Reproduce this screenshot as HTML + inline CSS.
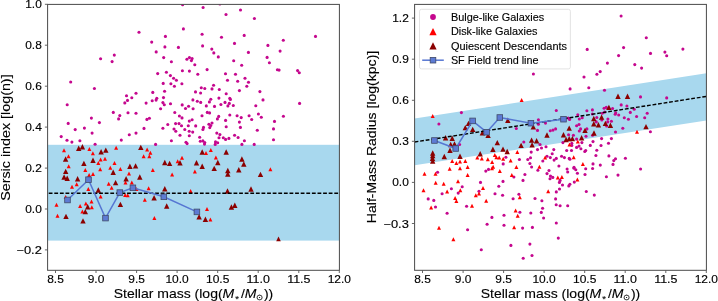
<!DOCTYPE html><html><head><meta charset="utf-8"><style>html,body{margin:0;padding:0;background:#fff;overflow:hidden}svg{display:block;will-change:transform}text{font-family:"Liberation Sans",sans-serif;fill:#000}</style></head><body>
<svg width="718" height="301" viewBox="0 0 718 301">
<rect width="718" height="301" fill="#fff"/>
<defs><clipPath id="cl"><rect x="47.6" y="4.4" width="291.8" height="265.9"/></clipPath>
<clipPath id="cr"><rect x="414.6" y="4.4" width="291.8" height="265.9"/></clipPath></defs>
<g clip-path="url(#cl)">
<rect x="47.6" y="144.8" width="291.8" height="95.8" fill="#a8d8ee"/>
<circle cx="100.6" cy="58.8" r="1.55" fill="#c5078e"/>
<circle cx="114.3" cy="55.1" r="1.55" fill="#c5078e"/>
<circle cx="112.1" cy="61.6" r="1.55" fill="#c5078e"/>
<circle cx="182.6" cy="4.7" r="1.55" fill="#c5078e"/>
<circle cx="219.9" cy="4.0" r="1.55" fill="#c5078e"/>
<circle cx="203.1" cy="7.5" r="1.55" fill="#c5078e"/>
<circle cx="226.0" cy="14.5" r="1.55" fill="#c5078e"/>
<circle cx="139.0" cy="32.2" r="1.55" fill="#c5078e"/>
<circle cx="183.4" cy="28.9" r="1.55" fill="#c5078e"/>
<circle cx="165.4" cy="36.4" r="1.55" fill="#c5078e"/>
<circle cx="202.1" cy="34.2" r="1.55" fill="#c5078e"/>
<circle cx="221.5" cy="37.2" r="1.55" fill="#c5078e"/>
<circle cx="151.7" cy="42.1" r="1.55" fill="#c5078e"/>
<circle cx="164.9" cy="46.9" r="1.55" fill="#c5078e"/>
<circle cx="178.4" cy="47.4" r="1.55" fill="#c5078e"/>
<circle cx="202.6" cy="45.9" r="1.55" fill="#c5078e"/>
<circle cx="211.8" cy="49.1" r="1.55" fill="#c5078e"/>
<circle cx="213.8" cy="52.9" r="1.55" fill="#c5078e"/>
<circle cx="218.3" cy="56.9" r="1.55" fill="#c5078e"/>
<circle cx="156.2" cy="51.9" r="1.55" fill="#c5078e"/>
<circle cx="163.7" cy="57.6" r="1.55" fill="#c5078e"/>
<circle cx="171.4" cy="61.8" r="1.55" fill="#c5078e"/>
<circle cx="186.9" cy="59.3" r="1.55" fill="#c5078e"/>
<circle cx="189.4" cy="57.6" r="1.55" fill="#c5078e"/>
<circle cx="192.1" cy="58.6" r="1.55" fill="#c5078e"/>
<circle cx="191.4" cy="60.6" r="1.55" fill="#c5078e"/>
<circle cx="194.8" cy="64.8" r="1.55" fill="#c5078e"/>
<circle cx="182.4" cy="70.8" r="1.55" fill="#c5078e"/>
<circle cx="189.4" cy="71.1" r="1.55" fill="#c5078e"/>
<circle cx="197.8" cy="74.3" r="1.55" fill="#c5078e"/>
<circle cx="207.1" cy="69.6" r="1.55" fill="#c5078e"/>
<circle cx="157.7" cy="73.6" r="1.55" fill="#c5078e"/>
<circle cx="166.4" cy="72.3" r="1.55" fill="#c5078e"/>
<circle cx="170.4" cy="75.6" r="1.55" fill="#c5078e"/>
<circle cx="173.6" cy="78.3" r="1.55" fill="#c5078e"/>
<circle cx="225.5" cy="73.8" r="1.55" fill="#c5078e"/>
<circle cx="240.5" cy="10.0" r="1.55" fill="#c5078e"/>
<circle cx="254.4" cy="18.5" r="1.55" fill="#c5078e"/>
<circle cx="244.2" cy="35.4" r="1.55" fill="#c5078e"/>
<circle cx="234.5" cy="43.4" r="1.55" fill="#c5078e"/>
<circle cx="283.3" cy="40.2" r="1.55" fill="#c5078e"/>
<circle cx="315.5" cy="36.4" r="1.55" fill="#c5078e"/>
<circle cx="267.9" cy="45.4" r="1.55" fill="#c5078e"/>
<circle cx="248.4" cy="52.4" r="1.55" fill="#c5078e"/>
<circle cx="280.1" cy="51.1" r="1.55" fill="#c5078e"/>
<circle cx="267.1" cy="57.4" r="1.55" fill="#c5078e"/>
<circle cx="233.7" cy="60.8" r="1.55" fill="#c5078e"/>
<circle cx="241.7" cy="65.3" r="1.55" fill="#c5078e"/>
<circle cx="269.4" cy="62.8" r="1.55" fill="#c5078e"/>
<circle cx="277.4" cy="69.8" r="1.55" fill="#c5078e"/>
<circle cx="279.1" cy="70.1" r="1.55" fill="#c5078e"/>
<circle cx="297.6" cy="70.6" r="1.55" fill="#c5078e"/>
<circle cx="299.3" cy="72.8" r="1.55" fill="#c5078e"/>
<circle cx="235.5" cy="74.3" r="1.55" fill="#c5078e"/>
<circle cx="245.0" cy="78.3" r="1.55" fill="#c5078e"/>
<circle cx="70.7" cy="82.0" r="1.55" fill="#c5078e"/>
<circle cx="94.4" cy="88.5" r="1.55" fill="#c5078e"/>
<circle cx="67.2" cy="104.7" r="1.55" fill="#c5078e"/>
<circle cx="126.5" cy="95.7" r="1.55" fill="#c5078e"/>
<circle cx="131.8" cy="97.7" r="1.55" fill="#c5078e"/>
<circle cx="127.5" cy="100.4" r="1.55" fill="#c5078e"/>
<circle cx="124.8" cy="102.9" r="1.55" fill="#c5078e"/>
<circle cx="136.0" cy="93.2" r="1.55" fill="#c5078e"/>
<circle cx="113.3" cy="112.4" r="1.55" fill="#c5078e"/>
<circle cx="119.8" cy="115.6" r="1.55" fill="#c5078e"/>
<circle cx="118.6" cy="118.9" r="1.55" fill="#c5078e"/>
<circle cx="128.0" cy="112.7" r="1.55" fill="#c5078e"/>
<circle cx="136.0" cy="113.2" r="1.55" fill="#c5078e"/>
<circle cx="91.4" cy="118.1" r="1.55" fill="#c5078e"/>
<circle cx="99.4" cy="122.6" r="1.55" fill="#c5078e"/>
<circle cx="68.2" cy="123.4" r="1.55" fill="#c5078e"/>
<circle cx="75.2" cy="129.6" r="1.55" fill="#c5078e"/>
<circle cx="84.4" cy="128.1" r="1.55" fill="#c5078e"/>
<circle cx="92.1" cy="133.1" r="1.55" fill="#c5078e"/>
<circle cx="61.2" cy="136.6" r="1.55" fill="#c5078e"/>
<circle cx="67.0" cy="140.3" r="1.55" fill="#c5078e"/>
<circle cx="71.9" cy="142.1" r="1.55" fill="#c5078e"/>
<circle cx="79.9" cy="140.8" r="1.55" fill="#c5078e"/>
<circle cx="95.1" cy="144.3" r="1.55" fill="#c5078e"/>
<circle cx="121.3" cy="140.1" r="1.55" fill="#c5078e"/>
<circle cx="129.3" cy="134.8" r="1.55" fill="#c5078e"/>
<circle cx="136.0" cy="133.1" r="1.55" fill="#c5078e"/>
<circle cx="176.4" cy="80.3" r="1.55" fill="#c5078e"/>
<circle cx="163.2" cy="83.4" r="1.55" fill="#c5078e"/>
<circle cx="170.9" cy="83.7" r="1.55" fill="#c5078e"/>
<circle cx="174.4" cy="86.2" r="1.55" fill="#c5078e"/>
<circle cx="152.8" cy="92.4" r="1.55" fill="#c5078e"/>
<circle cx="164.6" cy="91.3" r="1.55" fill="#c5078e"/>
<circle cx="163.5" cy="97.6" r="1.55" fill="#c5078e"/>
<circle cx="156.8" cy="98.3" r="1.55" fill="#c5078e"/>
<circle cx="156.1" cy="100.1" r="1.55" fill="#c5078e"/>
<circle cx="152.2" cy="100.7" r="1.55" fill="#c5078e"/>
<circle cx="146.1" cy="103.1" r="1.55" fill="#c5078e"/>
<circle cx="162.9" cy="102.6" r="1.55" fill="#c5078e"/>
<circle cx="164.3" cy="104.7" r="1.55" fill="#c5078e"/>
<circle cx="170.5" cy="103.7" r="1.55" fill="#c5078e"/>
<circle cx="160.6" cy="108.8" r="1.55" fill="#c5078e"/>
<circle cx="174.8" cy="112.5" r="1.55" fill="#c5078e"/>
<circle cx="179.4" cy="116.0" r="1.55" fill="#c5078e"/>
<circle cx="181.9" cy="83.8" r="1.55" fill="#c5078e"/>
<circle cx="201.3" cy="87.8" r="1.55" fill="#c5078e"/>
<circle cx="204.8" cy="88.5" r="1.55" fill="#c5078e"/>
<circle cx="213.6" cy="85.3" r="1.55" fill="#c5078e"/>
<circle cx="212.0" cy="88.9" r="1.55" fill="#c5078e"/>
<circle cx="219.3" cy="89.5" r="1.55" fill="#c5078e"/>
<circle cx="195.5" cy="91.9" r="1.55" fill="#c5078e"/>
<circle cx="200.6" cy="93.0" r="1.55" fill="#c5078e"/>
<circle cx="226.2" cy="93.8" r="1.55" fill="#c5078e"/>
<circle cx="192.9" cy="99.9" r="1.55" fill="#c5078e"/>
<circle cx="197.3" cy="101.3" r="1.55" fill="#c5078e"/>
<circle cx="200.7" cy="102.4" r="1.55" fill="#c5078e"/>
<circle cx="210.8" cy="99.2" r="1.55" fill="#c5078e"/>
<circle cx="209.4" cy="101.9" r="1.55" fill="#c5078e"/>
<circle cx="218.9" cy="98.1" r="1.55" fill="#c5078e"/>
<circle cx="225.0" cy="102.4" r="1.55" fill="#c5078e"/>
<circle cx="220.9" cy="104.5" r="1.55" fill="#c5078e"/>
<circle cx="182.2" cy="104.9" r="1.55" fill="#c5078e"/>
<circle cx="188.6" cy="106.2" r="1.55" fill="#c5078e"/>
<circle cx="185.5" cy="108.5" r="1.55" fill="#c5078e"/>
<circle cx="193.1" cy="108.8" r="1.55" fill="#c5078e"/>
<circle cx="206.3" cy="105.9" r="1.55" fill="#c5078e"/>
<circle cx="214.5" cy="106.4" r="1.55" fill="#c5078e"/>
<circle cx="207.3" cy="112.4" r="1.55" fill="#c5078e"/>
<circle cx="209.6" cy="112.9" r="1.55" fill="#c5078e"/>
<circle cx="202.0" cy="115.8" r="1.55" fill="#c5078e"/>
<circle cx="218.7" cy="116.4" r="1.55" fill="#c5078e"/>
<circle cx="146.9" cy="119.4" r="1.55" fill="#c5078e"/>
<circle cx="149.4" cy="118.3" r="1.55" fill="#c5078e"/>
<circle cx="167.8" cy="124.5" r="1.55" fill="#c5078e"/>
<circle cx="175.6" cy="123.6" r="1.55" fill="#c5078e"/>
<circle cx="179.0" cy="123.6" r="1.55" fill="#c5078e"/>
<circle cx="181.5" cy="125.7" r="1.55" fill="#c5078e"/>
<circle cx="144.0" cy="128.4" r="1.55" fill="#c5078e"/>
<circle cx="162.9" cy="128.3" r="1.55" fill="#c5078e"/>
<circle cx="174.0" cy="129.0" r="1.55" fill="#c5078e"/>
<circle cx="175.8" cy="131.2" r="1.55" fill="#c5078e"/>
<circle cx="180.0" cy="135.3" r="1.55" fill="#c5078e"/>
<circle cx="171.4" cy="140.8" r="1.55" fill="#c5078e"/>
<circle cx="155.6" cy="144.4" r="1.55" fill="#c5078e"/>
<circle cx="182.0" cy="117.9" r="1.55" fill="#c5078e"/>
<circle cx="217.4" cy="118.9" r="1.55" fill="#c5078e"/>
<circle cx="189.3" cy="121.1" r="1.55" fill="#c5078e"/>
<circle cx="192.1" cy="119.8" r="1.55" fill="#c5078e"/>
<circle cx="225.6" cy="120.4" r="1.55" fill="#c5078e"/>
<circle cx="188.3" cy="125.7" r="1.55" fill="#c5078e"/>
<circle cx="195.7" cy="125.9" r="1.55" fill="#c5078e"/>
<circle cx="208.9" cy="124.2" r="1.55" fill="#c5078e"/>
<circle cx="212.0" cy="123.0" r="1.55" fill="#c5078e"/>
<circle cx="210.8" cy="125.5" r="1.55" fill="#c5078e"/>
<circle cx="209.8" cy="127.6" r="1.55" fill="#c5078e"/>
<circle cx="203.5" cy="127.4" r="1.55" fill="#c5078e"/>
<circle cx="202.9" cy="129.5" r="1.55" fill="#c5078e"/>
<circle cx="226.2" cy="126.7" r="1.55" fill="#c5078e"/>
<circle cx="184.8" cy="129.5" r="1.55" fill="#c5078e"/>
<circle cx="189.2" cy="131.2" r="1.55" fill="#c5078e"/>
<circle cx="192.7" cy="132.1" r="1.55" fill="#c5078e"/>
<circle cx="189.3" cy="135.8" r="1.55" fill="#c5078e"/>
<circle cx="216.8" cy="133.1" r="1.55" fill="#c5078e"/>
<circle cx="219.9" cy="134.6" r="1.55" fill="#c5078e"/>
<circle cx="219.0" cy="137.7" r="1.55" fill="#c5078e"/>
<circle cx="223.3" cy="137.7" r="1.55" fill="#c5078e"/>
<circle cx="225.6" cy="139.4" r="1.55" fill="#c5078e"/>
<circle cx="199.7" cy="137.2" r="1.55" fill="#c5078e"/>
<circle cx="200.3" cy="141.3" r="1.55" fill="#c5078e"/>
<circle cx="202.9" cy="140.9" r="1.55" fill="#c5078e"/>
<circle cx="204.8" cy="142.5" r="1.55" fill="#c5078e"/>
<circle cx="204.5" cy="144.1" r="1.55" fill="#c5078e"/>
<circle cx="186.0" cy="142.2" r="1.55" fill="#c5078e"/>
<circle cx="187.1" cy="143.6" r="1.55" fill="#c5078e"/>
<circle cx="215.5" cy="141.9" r="1.55" fill="#c5078e"/>
<circle cx="217.7" cy="142.8" r="1.55" fill="#c5078e"/>
<circle cx="215.2" cy="144.4" r="1.55" fill="#c5078e"/>
<circle cx="227.5" cy="80.2" r="1.55" fill="#c5078e"/>
<circle cx="237.7" cy="81.3" r="1.55" fill="#c5078e"/>
<circle cx="248.5" cy="82.2" r="1.55" fill="#c5078e"/>
<circle cx="246.8" cy="86.2" r="1.55" fill="#c5078e"/>
<circle cx="239.4" cy="90.6" r="1.55" fill="#c5078e"/>
<circle cx="259.9" cy="91.6" r="1.55" fill="#c5078e"/>
<circle cx="229.8" cy="98.2" r="1.55" fill="#c5078e"/>
<circle cx="230.4" cy="99.5" r="1.55" fill="#c5078e"/>
<circle cx="263.0" cy="99.9" r="1.55" fill="#c5078e"/>
<circle cx="229.3" cy="103.4" r="1.55" fill="#c5078e"/>
<circle cx="227.9" cy="105.9" r="1.55" fill="#c5078e"/>
<circle cx="233.3" cy="105.5" r="1.55" fill="#c5078e"/>
<circle cx="255.8" cy="105.7" r="1.55" fill="#c5078e"/>
<circle cx="229.8" cy="115.0" r="1.55" fill="#c5078e"/>
<circle cx="237.1" cy="115.7" r="1.55" fill="#c5078e"/>
<circle cx="249.1" cy="115.7" r="1.55" fill="#c5078e"/>
<circle cx="258.4" cy="114.0" r="1.55" fill="#c5078e"/>
<circle cx="299.6" cy="103.4" r="1.55" fill="#c5078e"/>
<circle cx="283.4" cy="116.3" r="1.55" fill="#c5078e"/>
<circle cx="241.2" cy="117.6" r="1.55" fill="#c5078e"/>
<circle cx="251.7" cy="119.5" r="1.55" fill="#c5078e"/>
<circle cx="261.3" cy="117.3" r="1.55" fill="#c5078e"/>
<circle cx="239.4" cy="122.1" r="1.55" fill="#c5078e"/>
<circle cx="240.4" cy="127.4" r="1.55" fill="#c5078e"/>
<circle cx="257.3" cy="130.2" r="1.55" fill="#c5078e"/>
<circle cx="234.6" cy="135.2" r="1.55" fill="#c5078e"/>
<circle cx="238.1" cy="137.5" r="1.55" fill="#c5078e"/>
<circle cx="228.9" cy="138.4" r="1.55" fill="#c5078e"/>
<circle cx="244.4" cy="140.8" r="1.55" fill="#c5078e"/>
<circle cx="241.9" cy="144.4" r="1.55" fill="#c5078e"/>
<circle cx="254.2" cy="144.4" r="1.55" fill="#c5078e"/>
<circle cx="274.5" cy="121.4" r="1.55" fill="#c5078e"/>
<circle cx="273.5" cy="128.9" r="1.55" fill="#c5078e"/>
<circle cx="273.5" cy="139.8" r="1.55" fill="#c5078e"/>
<path d="M64.0 148.3L66.0 152.3L62.0 152.3Z" fill="#ff0000"/>
<path d="M89.4 147.1L91.4 151.1L87.4 151.1Z" fill="#ff0000"/>
<path d="M92.9 151.3L94.9 155.3L90.9 155.3Z" fill="#ff0000"/>
<path d="M116.1 145.8L118.1 149.8L114.1 149.8Z" fill="#ff0000"/>
<path d="M68.5 154.2L70.5 158.2L66.5 158.2Z" fill="#ff0000"/>
<path d="M68.7 164.2L70.7 168.2L66.7 168.2Z" fill="#ff0000"/>
<path d="M85.3 168.1L87.3 172.1L83.3 172.1Z" fill="#ff0000"/>
<path d="M89.1 173.1L91.1 177.1L87.1 177.1Z" fill="#ff0000"/>
<path d="M76.7 182.2L78.7 186.2L74.7 186.2Z" fill="#ff0000"/>
<path d="M72.0 184.8L74.0 188.8L70.0 188.8Z" fill="#ff0000"/>
<path d="M88.3 187.0L90.3 191.0L86.3 191.0Z" fill="#ff0000"/>
<path d="M65.7 194.9L67.7 198.9L63.7 198.9Z" fill="#ff0000"/>
<path d="M56.5 202.8L58.5 206.8L54.5 206.8Z" fill="#ff0000"/>
<path d="M80.1 204.0L82.1 208.0L78.1 208.0Z" fill="#ff0000"/>
<path d="M85.9 201.5L87.9 205.5L83.9 205.5Z" fill="#ff0000"/>
<path d="M91.5 199.5L93.5 203.5L89.5 203.5Z" fill="#ff0000"/>
<path d="M100.6 157.6L102.6 161.6L98.6 161.6Z" fill="#ff0000"/>
<path d="M105.0 156.7L107.0 160.7L103.0 160.7Z" fill="#ff0000"/>
<path d="M98.3 161.1L100.3 165.1L96.3 165.1Z" fill="#ff0000"/>
<path d="M114.5 161.1L116.5 165.1L112.5 165.1Z" fill="#ff0000"/>
<path d="M100.2 167.3L102.2 171.3L98.2 171.3Z" fill="#ff0000"/>
<path d="M110.3 165.8L112.3 169.8L108.3 169.8Z" fill="#ff0000"/>
<path d="M120.4 167.1L122.4 171.1L118.4 171.1Z" fill="#ff0000"/>
<path d="M93.0 171.9L95.0 175.9L91.0 175.9Z" fill="#ff0000"/>
<path d="M129.0 171.5L131.0 175.5L127.0 175.5Z" fill="#ff0000"/>
<path d="M125.5 180.6L127.5 184.6L123.5 184.6Z" fill="#ff0000"/>
<path d="M131.8 180.4L133.8 184.4L129.8 184.4Z" fill="#ff0000"/>
<path d="M108.7 181.7L110.7 185.7L106.7 185.7Z" fill="#ff0000"/>
<path d="M111.6 185.7L113.6 189.7L109.6 189.7Z" fill="#ff0000"/>
<path d="M100.6 194.5L102.6 198.5L98.6 198.5Z" fill="#ff0000"/>
<path d="M125.1 193.0L127.1 197.0L123.1 197.0Z" fill="#ff0000"/>
<path d="M127.7 193.3L129.7 197.3L125.7 197.3Z" fill="#ff0000"/>
<path d="M136.5 187.0L138.5 191.0L134.5 191.0Z" fill="#ff0000"/>
<path d="M147.1 147.5L149.1 151.5L145.1 151.5Z" fill="#ff0000"/>
<path d="M150.4 150.7L152.4 154.7L148.4 154.7Z" fill="#ff0000"/>
<path d="M143.6 154.2L145.6 158.2L141.6 158.2Z" fill="#ff0000"/>
<path d="M149.3 154.2L151.3 158.2L147.3 158.2Z" fill="#ff0000"/>
<path d="M177.7 159.2L179.7 163.2L175.7 163.2Z" fill="#ff0000"/>
<path d="M152.8 168.1L154.8 172.1L150.8 172.1Z" fill="#ff0000"/>
<path d="M172.1 172.4L174.1 176.4L170.1 176.4Z" fill="#ff0000"/>
<path d="M148.6 186.3L150.6 190.3L146.6 190.3Z" fill="#ff0000"/>
<path d="M144.8 197.7L146.8 201.7L142.8 201.7Z" fill="#ff0000"/>
<path d="M206.0 151.0L208.0 155.0L204.0 155.0Z" fill="#ff0000"/>
<path d="M210.8 148.1L212.8 152.1L208.8 152.1Z" fill="#ff0000"/>
<path d="M182.0 155.7L184.0 159.7L180.0 159.7Z" fill="#ff0000"/>
<path d="M215.9 155.4L217.9 159.4L213.9 159.4Z" fill="#ff0000"/>
<path d="M194.9 169.4L196.9 173.4L192.9 173.4Z" fill="#ff0000"/>
<path d="M190.6 188.9L192.6 192.9L188.6 192.9Z" fill="#ff0000"/>
<path d="M270.4 167.3L272.4 171.3L268.4 171.3Z" fill="#ff0000"/>
<path d="M82.4 209.4L84.4 213.4L80.4 213.4Z" fill="#ff0000"/>
<path d="M57.5 213.8L59.5 217.8L55.5 217.8Z" fill="#ff0000"/>
<path d="M91.8 205.3L93.8 209.3L89.8 209.3Z" fill="#ff0000"/>
<path d="M154.4 216.1L156.4 220.1L152.4 220.1Z" fill="#ff0000"/>
<path d="M207.0 207.1L209.0 211.1L205.0 211.1Z" fill="#ff0000"/>
<path d="M210.4 217.6L212.4 221.6L208.4 221.6Z" fill="#ff0000"/>
<path d="M78.7 145.6L81.4 151.0L76.0 151.0Z" fill="#8b0000"/>
<path d="M82.4 144.1L85.1 149.5L79.7 149.5Z" fill="#8b0000"/>
<path d="M101.1 149.1L103.8 154.5L98.4 154.5Z" fill="#8b0000"/>
<path d="M105.8 147.4L108.5 152.8L103.1 152.8Z" fill="#8b0000"/>
<path d="M65.6 156.3L68.3 161.7L62.9 161.7Z" fill="#8b0000"/>
<path d="M83.9 160.7L86.6 166.1L81.2 166.1Z" fill="#8b0000"/>
<path d="M65.7 168.7L68.4 174.1L63.0 174.1Z" fill="#8b0000"/>
<path d="M64.1 174.3L66.8 179.7L61.4 179.7Z" fill="#8b0000"/>
<path d="M67.2 175.5L69.9 180.9L64.5 180.9Z" fill="#8b0000"/>
<path d="M77.6 176.1L80.3 181.5L74.9 181.5Z" fill="#8b0000"/>
<path d="M87.7 204.0L90.4 209.4L85.0 209.4Z" fill="#8b0000"/>
<path d="M93.0 157.5L95.7 162.9L90.3 162.9Z" fill="#8b0000"/>
<path d="M113.2 169.5L115.9 174.9L110.5 174.9Z" fill="#8b0000"/>
<path d="M129.9 163.6L132.6 169.0L127.2 169.0Z" fill="#8b0000"/>
<path d="M135.6 163.2L138.3 168.6L132.9 168.6Z" fill="#8b0000"/>
<path d="M126.1 176.1L128.8 181.5L123.4 181.5Z" fill="#8b0000"/>
<path d="M115.6 179.9L118.3 185.3L112.9 185.3Z" fill="#8b0000"/>
<path d="M98.3 187.3L101.0 192.7L95.6 192.7Z" fill="#8b0000"/>
<path d="M120.4 201.7L123.1 207.1L117.7 207.1Z" fill="#8b0000"/>
<path d="M140.8 144.7L143.5 150.1L138.1 150.1Z" fill="#8b0000"/>
<path d="M164.8 159.8L167.5 165.2L162.1 165.2Z" fill="#8b0000"/>
<path d="M169.6 160.7L172.3 166.1L166.9 166.1Z" fill="#8b0000"/>
<path d="M180.0 160.1L182.7 165.5L177.3 165.5Z" fill="#8b0000"/>
<path d="M139.8 174.3L142.5 179.7L137.1 179.7Z" fill="#8b0000"/>
<path d="M164.8 186.0L167.5 191.4L162.1 191.4Z" fill="#8b0000"/>
<path d="M154.1 195.1L156.8 200.5L151.4 200.5Z" fill="#8b0000"/>
<path d="M166.7 203.3L169.4 208.7L164.0 208.7Z" fill="#8b0000"/>
<path d="M202.2 149.3L204.9 154.7L199.5 154.7Z" fill="#8b0000"/>
<path d="M226.2 149.3L228.9 154.7L223.5 154.7Z" fill="#8b0000"/>
<path d="M217.8 159.8L220.5 165.2L215.1 165.2Z" fill="#8b0000"/>
<path d="M196.5 160.1L199.2 165.5L193.8 165.5Z" fill="#8b0000"/>
<path d="M202.2 163.6L204.9 169.0L199.5 169.0Z" fill="#8b0000"/>
<path d="M214.2 165.7L216.9 171.1L211.5 171.1Z" fill="#8b0000"/>
<path d="M241.9 156.3L244.6 161.7L239.2 161.7Z" fill="#8b0000"/>
<path d="M243.8 161.3L246.5 166.7L241.1 166.7Z" fill="#8b0000"/>
<path d="M227.8 167.8L230.5 173.2L225.1 173.2Z" fill="#8b0000"/>
<path d="M227.8 171.3L230.5 176.7L225.1 176.7Z" fill="#8b0000"/>
<path d="M238.8 167.0L241.5 172.4L236.1 172.4Z" fill="#8b0000"/>
<path d="M260.5 171.7L263.2 177.1L257.8 177.1Z" fill="#8b0000"/>
<path d="M227.5 188.3L230.2 193.7L224.8 193.7Z" fill="#8b0000"/>
<path d="M251.0 186.3L253.7 191.7L248.3 191.7Z" fill="#8b0000"/>
<path d="M85.3 208.9L88.0 214.3L82.6 214.3Z" fill="#8b0000"/>
<path d="M66.0 213.7L68.7 219.1L63.3 219.1Z" fill="#8b0000"/>
<path d="M83.0 218.2L85.7 223.6L80.3 223.6Z" fill="#8b0000"/>
<path d="M199.1 214.1L201.8 219.5L196.4 219.5Z" fill="#8b0000"/>
<path d="M205.4 216.5L208.1 221.9L202.7 221.9Z" fill="#8b0000"/>
<path d="M231.4 204.3L234.1 209.7L228.7 209.7Z" fill="#8b0000"/>
<path d="M234.8 202.6L237.5 208.0L232.1 208.0Z" fill="#8b0000"/>
<path d="M278.5 236.6L280.8 241.2L276.2 241.2Z" fill="#8b0000"/>
<line x1="47.6" y1="193.2" x2="339.4" y2="193.2" stroke="#000" stroke-width="1.4" stroke-dasharray="3.8 1.8" stroke-dashoffset="-1.1"/>
<polyline points="67.5,200.0 88.5,179.7 105.5,218.1 119.8,192.6 132.9,187.8 163.8,196.8 196.9,211.9" fill="none" stroke="#5676d2" stroke-width="1.5"/>
<rect x="64.7" y="197.2" width="5.6" height="5.6" fill="#5d7bd4" stroke="#404a68" stroke-width="0.8"/>
<rect x="85.7" y="176.9" width="5.6" height="5.6" fill="#5d7bd4" stroke="#404a68" stroke-width="0.8"/>
<rect x="102.7" y="215.3" width="5.6" height="5.6" fill="#5d7bd4" stroke="#404a68" stroke-width="0.8"/>
<rect x="117.0" y="189.8" width="5.6" height="5.6" fill="#5d7bd4" stroke="#404a68" stroke-width="0.8"/>
<rect x="130.1" y="185.0" width="5.6" height="5.6" fill="#5d7bd4" stroke="#404a68" stroke-width="0.8"/>
<rect x="161.0" y="194.0" width="5.6" height="5.6" fill="#5d7bd4" stroke="#404a68" stroke-width="0.8"/>
<rect x="194.1" y="209.1" width="5.6" height="5.6" fill="#5d7bd4" stroke="#404a68" stroke-width="0.8"/>
</g>
<rect x="47.6" y="4.4" width="291.8" height="265.9" fill="none" stroke="#4a4a4a" stroke-width="1.0"/>
<line x1="55.5" y1="270.3" x2="55.5" y2="273.0" stroke="#555" stroke-width="0.9"/>
<text x="55.5" y="283.1" font-size="11.0" text-anchor="middle" textLength="16.6" lengthAdjust="spacingAndGlyphs" stroke="#000" stroke-width="0.15">8.5</text>
<line x1="96.0" y1="270.3" x2="96.0" y2="273.0" stroke="#555" stroke-width="0.9"/>
<text x="96.0" y="283.1" font-size="11.0" text-anchor="middle" textLength="16.6" lengthAdjust="spacingAndGlyphs" stroke="#000" stroke-width="0.15">9.0</text>
<line x1="136.6" y1="270.3" x2="136.6" y2="273.0" stroke="#555" stroke-width="0.9"/>
<text x="136.6" y="283.1" font-size="11.0" text-anchor="middle" textLength="16.6" lengthAdjust="spacingAndGlyphs" stroke="#000" stroke-width="0.15">9.5</text>
<line x1="177.1" y1="270.3" x2="177.1" y2="273.0" stroke="#555" stroke-width="0.9"/>
<text x="177.1" y="283.1" font-size="11.0" text-anchor="middle" textLength="23.3" lengthAdjust="spacingAndGlyphs" stroke="#000" stroke-width="0.15">10.0</text>
<line x1="217.7" y1="270.3" x2="217.7" y2="273.0" stroke="#555" stroke-width="0.9"/>
<text x="217.7" y="283.1" font-size="11.0" text-anchor="middle" textLength="23.3" lengthAdjust="spacingAndGlyphs" stroke="#000" stroke-width="0.15">10.5</text>
<line x1="258.2" y1="270.3" x2="258.2" y2="273.0" stroke="#555" stroke-width="0.9"/>
<text x="258.2" y="283.1" font-size="11.0" text-anchor="middle" textLength="23.3" lengthAdjust="spacingAndGlyphs" stroke="#000" stroke-width="0.15">11.0</text>
<line x1="298.8" y1="270.3" x2="298.8" y2="273.0" stroke="#555" stroke-width="0.9"/>
<text x="298.8" y="283.1" font-size="11.0" text-anchor="middle" textLength="23.3" lengthAdjust="spacingAndGlyphs" stroke="#000" stroke-width="0.15">11.5</text>
<line x1="339.3" y1="270.3" x2="339.3" y2="273.0" stroke="#555" stroke-width="0.9"/>
<text x="339.3" y="283.1" font-size="11.0" text-anchor="middle" textLength="23.3" lengthAdjust="spacingAndGlyphs" stroke="#000" stroke-width="0.15">12.0</text>
<line x1="44.9" y1="4.3" x2="47.6" y2="4.3" stroke="#555" stroke-width="0.9"/>
<text x="41.8" y="8.3" font-size="11.0" text-anchor="end" textLength="16.6" lengthAdjust="spacingAndGlyphs" stroke="#000" stroke-width="0.15">1.0</text>
<line x1="44.9" y1="45.2" x2="47.6" y2="45.2" stroke="#555" stroke-width="0.9"/>
<text x="41.8" y="49.2" font-size="11.0" text-anchor="end" textLength="16.6" lengthAdjust="spacingAndGlyphs" stroke="#000" stroke-width="0.15">0.8</text>
<line x1="44.9" y1="86.2" x2="47.6" y2="86.2" stroke="#555" stroke-width="0.9"/>
<text x="41.8" y="90.2" font-size="11.0" text-anchor="end" textLength="16.6" lengthAdjust="spacingAndGlyphs" stroke="#000" stroke-width="0.15">0.6</text>
<line x1="44.9" y1="127.1" x2="47.6" y2="127.1" stroke="#555" stroke-width="0.9"/>
<text x="41.8" y="131.1" font-size="11.0" text-anchor="end" textLength="16.6" lengthAdjust="spacingAndGlyphs" stroke="#000" stroke-width="0.15">0.4</text>
<line x1="44.9" y1="168.1" x2="47.6" y2="168.1" stroke="#555" stroke-width="0.9"/>
<text x="41.8" y="172.1" font-size="11.0" text-anchor="end" textLength="16.6" lengthAdjust="spacingAndGlyphs" stroke="#000" stroke-width="0.15">0.2</text>
<line x1="44.9" y1="209.0" x2="47.6" y2="209.0" stroke="#555" stroke-width="0.9"/>
<text x="41.8" y="213.0" font-size="11.0" text-anchor="end" textLength="16.6" lengthAdjust="spacingAndGlyphs" stroke="#000" stroke-width="0.15">0.0</text>
<line x1="44.9" y1="249.9" x2="47.6" y2="249.9" stroke="#555" stroke-width="0.9"/>
<text x="41.8" y="253.9" font-size="11.0" text-anchor="end" textLength="25.4" lengthAdjust="spacingAndGlyphs" stroke="#000" stroke-width="0.15">−0.2</text>
<text transform="translate(9.9,137.6) rotate(-90)" font-size="13.1" text-anchor="middle" textLength="126.4" lengthAdjust="spacingAndGlyphs" stroke="#000" stroke-width="0.12">Sersic index [log(n)]</text>
<g clip-path="url(#cr)">
<polygon points="414.6,118.6 706.4,73.3 706.4,120.6 414.6,165.2" fill="#a8d8ee"/>
<circle cx="621.1" cy="16.0" r="1.55" fill="#c5078e"/>
<circle cx="646.3" cy="37.7" r="1.55" fill="#c5078e"/>
<circle cx="587.2" cy="49.4" r="1.55" fill="#c5078e"/>
<circle cx="623.6" cy="47.6" r="1.55" fill="#c5078e"/>
<circle cx="618.6" cy="55.6" r="1.55" fill="#c5078e"/>
<circle cx="650.5" cy="53.4" r="1.55" fill="#c5078e"/>
<circle cx="607.4" cy="63.1" r="1.55" fill="#c5078e"/>
<circle cx="634.8" cy="64.6" r="1.55" fill="#c5078e"/>
<circle cx="641.6" cy="68.1" r="1.55" fill="#c5078e"/>
<circle cx="600.2" cy="71.6" r="1.55" fill="#c5078e"/>
<circle cx="596.9" cy="74.3" r="1.55" fill="#c5078e"/>
<circle cx="584.0" cy="77.0" r="1.55" fill="#c5078e"/>
<circle cx="664.9" cy="52.1" r="1.55" fill="#c5078e"/>
<circle cx="666.7" cy="55.8" r="1.55" fill="#c5078e"/>
<circle cx="682.9" cy="49.1" r="1.55" fill="#c5078e"/>
<circle cx="533.4" cy="74.0" r="1.55" fill="#c5078e"/>
<circle cx="570.1" cy="88.9" r="1.55" fill="#c5078e"/>
<circle cx="588.8" cy="87.7" r="1.55" fill="#c5078e"/>
<circle cx="604.5" cy="90.2" r="1.55" fill="#c5078e"/>
<circle cx="666.7" cy="97.9" r="1.55" fill="#c5078e"/>
<circle cx="461.4" cy="112.6" r="1.55" fill="#c5078e"/>
<circle cx="438.9" cy="124.0" r="1.55" fill="#c5078e"/>
<circle cx="516.3" cy="128.5" r="1.55" fill="#c5078e"/>
<circle cx="538.4" cy="119.7" r="1.55" fill="#c5078e"/>
<circle cx="538.4" cy="124.3" r="1.55" fill="#c5078e"/>
<circle cx="545.5" cy="123.1" r="1.55" fill="#c5078e"/>
<circle cx="537.5" cy="130.4" r="1.55" fill="#c5078e"/>
<circle cx="556.3" cy="110.5" r="1.55" fill="#c5078e"/>
<circle cx="568.3" cy="118.1" r="1.55" fill="#c5078e"/>
<circle cx="569.6" cy="119.4" r="1.55" fill="#c5078e"/>
<circle cx="577.8" cy="114.8" r="1.55" fill="#c5078e"/>
<circle cx="579.3" cy="119.0" r="1.55" fill="#c5078e"/>
<circle cx="582.2" cy="117.8" r="1.55" fill="#c5078e"/>
<circle cx="586.9" cy="110.8" r="1.55" fill="#c5078e"/>
<circle cx="592.4" cy="109.9" r="1.55" fill="#c5078e"/>
<circle cx="592.4" cy="114.0" r="1.55" fill="#c5078e"/>
<circle cx="576.6" cy="125.7" r="1.55" fill="#c5078e"/>
<circle cx="579.0" cy="124.5" r="1.55" fill="#c5078e"/>
<circle cx="550.3" cy="130.8" r="1.55" fill="#c5078e"/>
<circle cx="553.0" cy="130.1" r="1.55" fill="#c5078e"/>
<circle cx="555.6" cy="128.9" r="1.55" fill="#c5078e"/>
<circle cx="580.6" cy="128.9" r="1.55" fill="#c5078e"/>
<circle cx="579.3" cy="131.0" r="1.55" fill="#c5078e"/>
<circle cx="586.9" cy="128.9" r="1.55" fill="#c5078e"/>
<circle cx="621.2" cy="104.9" r="1.55" fill="#c5078e"/>
<circle cx="626.9" cy="106.0" r="1.55" fill="#c5078e"/>
<circle cx="634.2" cy="109.2" r="1.55" fill="#c5078e"/>
<circle cx="604.1" cy="108.3" r="1.55" fill="#c5078e"/>
<circle cx="606.3" cy="107.4" r="1.55" fill="#c5078e"/>
<circle cx="612.6" cy="108.5" r="1.55" fill="#c5078e"/>
<circle cx="604.7" cy="112.1" r="1.55" fill="#c5078e"/>
<circle cx="602.2" cy="113.3" r="1.55" fill="#c5078e"/>
<circle cx="615.7" cy="112.7" r="1.55" fill="#c5078e"/>
<circle cx="615.2" cy="114.2" r="1.55" fill="#c5078e"/>
<circle cx="618.7" cy="115.0" r="1.55" fill="#c5078e"/>
<circle cx="630.3" cy="112.4" r="1.55" fill="#c5078e"/>
<circle cx="636.6" cy="116.5" r="1.55" fill="#c5078e"/>
<circle cx="624.3" cy="117.8" r="1.55" fill="#c5078e"/>
<circle cx="628.4" cy="119.3" r="1.55" fill="#c5078e"/>
<circle cx="596.8" cy="117.5" r="1.55" fill="#c5078e"/>
<circle cx="601.8" cy="120.0" r="1.55" fill="#c5078e"/>
<circle cx="596.3" cy="121.9" r="1.55" fill="#c5078e"/>
<circle cx="607.9" cy="119.0" r="1.55" fill="#c5078e"/>
<circle cx="611.4" cy="121.3" r="1.55" fill="#c5078e"/>
<circle cx="607.7" cy="121.9" r="1.55" fill="#c5078e"/>
<circle cx="606.6" cy="126.0" r="1.55" fill="#c5078e"/>
<circle cx="622.8" cy="128.2" r="1.55" fill="#c5078e"/>
<circle cx="615.5" cy="132.0" r="1.55" fill="#c5078e"/>
<circle cx="640.5" cy="96.9" r="1.55" fill="#c5078e"/>
<circle cx="647.2" cy="113.3" r="1.55" fill="#c5078e"/>
<circle cx="644.7" cy="117.8" r="1.55" fill="#c5078e"/>
<circle cx="650.4" cy="131.7" r="1.55" fill="#c5078e"/>
<circle cx="459.6" cy="144.5" r="1.55" fill="#c5078e"/>
<circle cx="503.2" cy="163.9" r="1.55" fill="#c5078e"/>
<circle cx="523.8" cy="142.0" r="1.55" fill="#c5078e"/>
<circle cx="540.0" cy="144.5" r="1.55" fill="#c5078e"/>
<circle cx="541.5" cy="148.0" r="1.55" fill="#c5078e"/>
<circle cx="546.0" cy="146.7" r="1.55" fill="#c5078e"/>
<circle cx="537.5" cy="149.6" r="1.55" fill="#c5078e"/>
<circle cx="531.2" cy="152.1" r="1.55" fill="#c5078e"/>
<circle cx="505.9" cy="157.2" r="1.55" fill="#c5078e"/>
<circle cx="519.4" cy="159.5" r="1.55" fill="#c5078e"/>
<circle cx="527.8" cy="159.5" r="1.55" fill="#c5078e"/>
<circle cx="530.5" cy="157.8" r="1.55" fill="#c5078e"/>
<circle cx="529.9" cy="163.5" r="1.55" fill="#c5078e"/>
<circle cx="547.0" cy="156.3" r="1.55" fill="#c5078e"/>
<circle cx="542.8" cy="161.0" r="1.55" fill="#c5078e"/>
<circle cx="531.6" cy="167.0" r="1.55" fill="#c5078e"/>
<circle cx="568.6" cy="134.8" r="1.55" fill="#c5078e"/>
<circle cx="573.4" cy="135.3" r="1.55" fill="#c5078e"/>
<circle cx="576.6" cy="139.1" r="1.55" fill="#c5078e"/>
<circle cx="586.0" cy="136.3" r="1.55" fill="#c5078e"/>
<circle cx="592.6" cy="135.3" r="1.55" fill="#c5078e"/>
<circle cx="581.9" cy="142.6" r="1.55" fill="#c5078e"/>
<circle cx="562.9" cy="142.6" r="1.55" fill="#c5078e"/>
<circle cx="571.8" cy="143.3" r="1.55" fill="#c5078e"/>
<circle cx="571.8" cy="145.4" r="1.55" fill="#c5078e"/>
<circle cx="593.0" cy="141.6" r="1.55" fill="#c5078e"/>
<circle cx="590.3" cy="145.4" r="1.55" fill="#c5078e"/>
<circle cx="576.6" cy="147.4" r="1.55" fill="#c5078e"/>
<circle cx="579.0" cy="146.1" r="1.55" fill="#c5078e"/>
<circle cx="580.9" cy="148.7" r="1.55" fill="#c5078e"/>
<circle cx="553.8" cy="149.6" r="1.55" fill="#c5078e"/>
<circle cx="566.7" cy="150.5" r="1.55" fill="#c5078e"/>
<circle cx="571.5" cy="150.5" r="1.55" fill="#c5078e"/>
<circle cx="584.8" cy="151.5" r="1.55" fill="#c5078e"/>
<circle cx="585.7" cy="150.5" r="1.55" fill="#c5078e"/>
<circle cx="552.2" cy="153.8" r="1.55" fill="#c5078e"/>
<circle cx="561.6" cy="156.3" r="1.55" fill="#c5078e"/>
<circle cx="564.4" cy="157.6" r="1.55" fill="#c5078e"/>
<circle cx="569.2" cy="158.4" r="1.55" fill="#c5078e"/>
<circle cx="569.9" cy="159.3" r="1.55" fill="#c5078e"/>
<circle cx="550.3" cy="157.6" r="1.55" fill="#c5078e"/>
<circle cx="554.1" cy="160.1" r="1.55" fill="#c5078e"/>
<circle cx="556.3" cy="158.4" r="1.55" fill="#c5078e"/>
<circle cx="558.9" cy="166.0" r="1.55" fill="#c5078e"/>
<circle cx="574.0" cy="167.3" r="1.55" fill="#c5078e"/>
<circle cx="593.0" cy="163.9" r="1.55" fill="#c5078e"/>
<circle cx="601.6" cy="138.6" r="1.55" fill="#c5078e"/>
<circle cx="611.4" cy="138.6" r="1.55" fill="#c5078e"/>
<circle cx="608.5" cy="143.3" r="1.55" fill="#c5078e"/>
<circle cx="601.0" cy="145.5" r="1.55" fill="#c5078e"/>
<circle cx="596.8" cy="150.2" r="1.55" fill="#c5078e"/>
<circle cx="595.9" cy="155.5" r="1.55" fill="#c5078e"/>
<circle cx="608.9" cy="155.9" r="1.55" fill="#c5078e"/>
<circle cx="615.5" cy="158.8" r="1.55" fill="#c5078e"/>
<circle cx="613.8" cy="160.6" r="1.55" fill="#c5078e"/>
<circle cx="625.4" cy="158.2" r="1.55" fill="#c5078e"/>
<circle cx="600.3" cy="165.1" r="1.55" fill="#c5078e"/>
<circle cx="613.0" cy="164.4" r="1.55" fill="#c5078e"/>
<circle cx="437.6" cy="172.3" r="1.55" fill="#c5078e"/>
<circle cx="451.4" cy="188.8" r="1.55" fill="#c5078e"/>
<circle cx="442.1" cy="193.8" r="1.55" fill="#c5078e"/>
<circle cx="458.2" cy="193.1" r="1.55" fill="#c5078e"/>
<circle cx="428.2" cy="198.9" r="1.55" fill="#c5078e"/>
<circle cx="433.8" cy="200.4" r="1.55" fill="#c5078e"/>
<circle cx="485.8" cy="171.1" r="1.55" fill="#c5078e"/>
<circle cx="488.5" cy="169.4" r="1.55" fill="#c5078e"/>
<circle cx="480.5" cy="182.4" r="1.55" fill="#c5078e"/>
<circle cx="462.2" cy="186.7" r="1.55" fill="#c5078e"/>
<circle cx="503.0" cy="181.4" r="1.55" fill="#c5078e"/>
<circle cx="498.8" cy="186.2" r="1.55" fill="#c5078e"/>
<circle cx="479.0" cy="191.3" r="1.55" fill="#c5078e"/>
<circle cx="495.0" cy="193.8" r="1.55" fill="#c5078e"/>
<circle cx="502.6" cy="195.3" r="1.55" fill="#c5078e"/>
<circle cx="537.9" cy="170.3" r="1.55" fill="#c5078e"/>
<circle cx="547.0" cy="173.6" r="1.55" fill="#c5078e"/>
<circle cx="513.9" cy="177.0" r="1.55" fill="#c5078e"/>
<circle cx="524.9" cy="174.5" r="1.55" fill="#c5078e"/>
<circle cx="523.0" cy="180.4" r="1.55" fill="#c5078e"/>
<circle cx="518.9" cy="194.3" r="1.55" fill="#c5078e"/>
<circle cx="513.1" cy="198.8" r="1.55" fill="#c5078e"/>
<circle cx="535.0" cy="198.5" r="1.55" fill="#c5078e"/>
<circle cx="541.9" cy="200.8" r="1.55" fill="#c5078e"/>
<circle cx="549.0" cy="170.5" r="1.55" fill="#c5078e"/>
<circle cx="567.1" cy="169.0" r="1.55" fill="#c5078e"/>
<circle cx="567.7" cy="172.0" r="1.55" fill="#c5078e"/>
<circle cx="574.0" cy="168.2" r="1.55" fill="#c5078e"/>
<circle cx="575.8" cy="169.7" r="1.55" fill="#c5078e"/>
<circle cx="577.4" cy="173.2" r="1.55" fill="#c5078e"/>
<circle cx="585.7" cy="168.8" r="1.55" fill="#c5078e"/>
<circle cx="592.6" cy="168.5" r="1.55" fill="#c5078e"/>
<circle cx="585.0" cy="174.5" r="1.55" fill="#c5078e"/>
<circle cx="550.5" cy="176.1" r="1.55" fill="#c5078e"/>
<circle cx="552.8" cy="177.4" r="1.55" fill="#c5078e"/>
<circle cx="550.0" cy="178.7" r="1.55" fill="#c5078e"/>
<circle cx="560.1" cy="180.4" r="1.55" fill="#c5078e"/>
<circle cx="559.4" cy="182.4" r="1.55" fill="#c5078e"/>
<circle cx="574.3" cy="182.1" r="1.55" fill="#c5078e"/>
<circle cx="569.9" cy="184.2" r="1.55" fill="#c5078e"/>
<circle cx="568.8" cy="185.9" r="1.55" fill="#c5078e"/>
<circle cx="562.5" cy="185.0" r="1.55" fill="#c5078e"/>
<circle cx="559.5" cy="189.0" r="1.55" fill="#c5078e"/>
<circle cx="556.3" cy="191.9" r="1.55" fill="#c5078e"/>
<circle cx="586.3" cy="191.5" r="1.55" fill="#c5078e"/>
<circle cx="555.6" cy="198.9" r="1.55" fill="#c5078e"/>
<circle cx="606.4" cy="176.8" r="1.55" fill="#c5078e"/>
<circle cx="618.0" cy="175.1" r="1.55" fill="#c5078e"/>
<circle cx="594.3" cy="195.1" r="1.55" fill="#c5078e"/>
<circle cx="640.6" cy="169.0" r="1.55" fill="#c5078e"/>
<circle cx="435.5" cy="207.0" r="1.55" fill="#c5078e"/>
<circle cx="447.1" cy="213.3" r="1.55" fill="#c5078e"/>
<circle cx="466.6" cy="206.3" r="1.55" fill="#c5078e"/>
<circle cx="491.9" cy="217.4" r="1.55" fill="#c5078e"/>
<circle cx="487.1" cy="224.3" r="1.55" fill="#c5078e"/>
<circle cx="467.6" cy="229.7" r="1.55" fill="#c5078e"/>
<circle cx="504.0" cy="215.2" r="1.55" fill="#c5078e"/>
<circle cx="504.0" cy="225.3" r="1.55" fill="#c5078e"/>
<circle cx="519.9" cy="212.3" r="1.55" fill="#c5078e"/>
<circle cx="530.8" cy="213.0" r="1.55" fill="#c5078e"/>
<circle cx="542.6" cy="208.2" r="1.55" fill="#c5078e"/>
<circle cx="541.3" cy="212.4" r="1.55" fill="#c5078e"/>
<circle cx="543.6" cy="218.0" r="1.55" fill="#c5078e"/>
<circle cx="522.6" cy="228.1" r="1.55" fill="#c5078e"/>
<circle cx="532.4" cy="227.4" r="1.55" fill="#c5078e"/>
<circle cx="556.2" cy="204.7" r="1.55" fill="#c5078e"/>
<circle cx="560.1" cy="205.7" r="1.55" fill="#c5078e"/>
<circle cx="567.7" cy="205.7" r="1.55" fill="#c5078e"/>
<circle cx="556.3" cy="223.0" r="1.55" fill="#c5078e"/>
<circle cx="481.3" cy="249.8" r="1.55" fill="#c5078e"/>
<circle cx="510.9" cy="245.4" r="1.55" fill="#c5078e"/>
<circle cx="529.9" cy="244.1" r="1.55" fill="#c5078e"/>
<circle cx="558.3" cy="238.1" r="1.55" fill="#c5078e"/>
<circle cx="532.0" cy="255.5" r="1.55" fill="#c5078e"/>
<circle cx="523.2" cy="258.3" r="1.55" fill="#c5078e"/>
<path d="M432.7 113.9L434.7 117.9L430.7 117.9Z" fill="#ff0000"/>
<path d="M521.6 97.9L523.6 101.9L519.6 101.9Z" fill="#ff0000"/>
<path d="M452.2 159.0L454.2 163.0L450.2 163.0Z" fill="#ff0000"/>
<path d="M456.4 160.9L458.4 164.9L454.4 164.9Z" fill="#ff0000"/>
<path d="M477.3 155.6L479.3 159.6L475.3 159.6Z" fill="#ff0000"/>
<path d="M481.8 156.4L483.8 160.4L479.8 160.4Z" fill="#ff0000"/>
<path d="M487.8 157.3L489.8 161.3L485.8 161.3Z" fill="#ff0000"/>
<path d="M494.8 153.0L496.8 157.0L492.8 157.0Z" fill="#ff0000"/>
<path d="M496.4 155.2L498.4 159.2L494.4 159.2Z" fill="#ff0000"/>
<path d="M499.2 155.6L501.2 159.6L497.2 159.6Z" fill="#ff0000"/>
<path d="M503.2 156.8L505.2 160.8L501.2 160.8Z" fill="#ff0000"/>
<path d="M460.0 159.6L462.0 163.6L458.0 163.6Z" fill="#ff0000"/>
<path d="M465.3 159.0L467.3 163.0L463.3 163.0Z" fill="#ff0000"/>
<path d="M492.1 159.9L494.1 163.9L490.1 163.9Z" fill="#ff0000"/>
<path d="M467.6 165.0L469.6 169.0L465.6 169.0Z" fill="#ff0000"/>
<path d="M493.1 164.7L495.1 168.7L491.1 168.7Z" fill="#ff0000"/>
<path d="M517.3 150.1L519.3 154.1L515.3 154.1Z" fill="#ff0000"/>
<path d="M510.6 158.6L512.6 162.6L508.6 162.6Z" fill="#ff0000"/>
<path d="M545.1 155.6L547.1 159.6L543.1 159.6Z" fill="#ff0000"/>
<path d="M516.4 165.0L518.4 169.0L514.4 169.0Z" fill="#ff0000"/>
<path d="M539.4 164.7L541.4 168.7L537.4 168.7Z" fill="#ff0000"/>
<path d="M577.8 139.6L579.8 143.6L575.8 143.6Z" fill="#ff0000"/>
<path d="M569.5 142.5L571.5 146.5L567.5 146.5Z" fill="#ff0000"/>
<path d="M573.7 155.2L575.7 159.2L571.7 159.2Z" fill="#ff0000"/>
<path d="M582.9 161.9L584.9 165.9L580.9 165.9Z" fill="#ff0000"/>
<path d="M637.0 129.7L639.0 133.7L635.0 133.7Z" fill="#ff0000"/>
<path d="M449.7 166.8L451.7 170.8L447.7 170.8Z" fill="#ff0000"/>
<path d="M424.5 171.8L426.5 175.8L422.5 175.8Z" fill="#ff0000"/>
<path d="M435.5 171.8L437.5 175.8L433.5 175.8Z" fill="#ff0000"/>
<path d="M435.7 180.7L437.7 184.7L433.7 184.7Z" fill="#ff0000"/>
<path d="M443.7 181.7L445.7 185.7L441.7 185.7Z" fill="#ff0000"/>
<path d="M458.0 179.2L460.0 183.2L456.0 183.2Z" fill="#ff0000"/>
<path d="M423.5 188.3L425.5 192.3L421.5 192.3Z" fill="#ff0000"/>
<path d="M447.1 189.5L449.1 193.5L445.1 193.5Z" fill="#ff0000"/>
<path d="M455.1 196.1L457.1 200.1L453.1 200.1Z" fill="#ff0000"/>
<path d="M456.4 199.0L458.4 203.0L454.4 203.0Z" fill="#ff0000"/>
<path d="M460.0 166.2L462.0 170.2L458.0 170.2Z" fill="#ff0000"/>
<path d="M467.6 172.9L469.6 176.9L465.6 176.9Z" fill="#ff0000"/>
<path d="M492.0 166.3L494.0 170.3L490.0 170.3Z" fill="#ff0000"/>
<path d="M499.8 169.1L501.8 173.1L497.8 173.1Z" fill="#ff0000"/>
<path d="M483.0 186.0L485.0 190.0L481.0 190.0Z" fill="#ff0000"/>
<path d="M460.3 188.3L462.3 192.3L458.3 192.3Z" fill="#ff0000"/>
<path d="M479.0 191.4L481.0 195.4L477.0 195.4Z" fill="#ff0000"/>
<path d="M475.8 193.3L477.8 197.3L473.8 197.3Z" fill="#ff0000"/>
<path d="M486.2 198.7L488.2 202.7L484.2 202.7Z" fill="#ff0000"/>
<path d="M511.8 173.1L513.8 177.1L509.8 177.1Z" fill="#ff0000"/>
<path d="M548.2 189.3L550.2 193.3L546.2 193.3Z" fill="#ff0000"/>
<path d="M519.8 195.2L521.8 199.2L517.8 199.2Z" fill="#ff0000"/>
<path d="M557.8 175.4L559.8 179.4L555.8 179.4Z" fill="#ff0000"/>
<path d="M561.9 175.0L563.9 179.0L559.9 179.0Z" fill="#ff0000"/>
<path d="M577.4 177.5L579.4 181.5L575.4 181.5Z" fill="#ff0000"/>
<path d="M431.1 205.6L433.1 209.6L429.1 209.6Z" fill="#ff0000"/>
<path d="M439.0 225.8L441.0 229.8L437.0 229.8Z" fill="#ff0000"/>
<path d="M472.0 203.7L474.0 207.7L470.0 207.7Z" fill="#ff0000"/>
<path d="M515.6 208.4L517.6 212.4L513.6 212.4Z" fill="#ff0000"/>
<path d="M517.7 213.8L519.7 217.8L515.7 217.8Z" fill="#ff0000"/>
<path d="M514.1 225.2L516.1 229.2L512.1 229.2Z" fill="#ff0000"/>
<path d="M453.4 237.3L455.4 241.3L451.4 241.3Z" fill="#ff0000"/>
<path d="M468.5 120.7L471.2 126.1L465.8 126.1Z" fill="#8b0000"/>
<path d="M465.3 124.9L468.0 130.3L462.6 130.3Z" fill="#8b0000"/>
<path d="M472.7 126.7L475.4 132.1L470.0 132.1Z" fill="#8b0000"/>
<path d="M482.4 130.1L485.1 135.5L479.7 135.5Z" fill="#8b0000"/>
<path d="M488.1 132.7L490.8 138.1L485.4 138.1Z" fill="#8b0000"/>
<path d="M445.6 135.1L448.3 140.5L442.9 140.5Z" fill="#8b0000"/>
<path d="M452.2 135.5L454.9 140.9L449.5 140.9Z" fill="#8b0000"/>
<path d="M450.7 141.8L453.4 147.2L448.0 147.2Z" fill="#8b0000"/>
<path d="M454.5 141.2L457.2 146.6L451.8 146.6Z" fill="#8b0000"/>
<path d="M450.0 147.5L452.7 152.9L447.3 152.9Z" fill="#8b0000"/>
<path d="M444.3 153.8L447.0 159.2L441.6 159.2Z" fill="#8b0000"/>
<path d="M432.7 150.3L435.4 155.7L430.0 155.7Z" fill="#8b0000"/>
<path d="M432.7 152.8L435.4 158.2L430.0 158.2Z" fill="#8b0000"/>
<path d="M432.5 155.5L435.2 160.9L429.8 160.9Z" fill="#8b0000"/>
<path d="M432.7 158.3L435.4 163.7L430.0 163.7Z" fill="#8b0000"/>
<path d="M497.3 139.9L500.0 145.3L494.6 145.3Z" fill="#8b0000"/>
<path d="M492.9 146.6L495.6 152.0L490.2 152.0Z" fill="#8b0000"/>
<path d="M503.0 146.4L505.7 151.8L500.3 151.8Z" fill="#8b0000"/>
<path d="M480.2 151.1L482.9 156.5L477.5 156.5Z" fill="#8b0000"/>
<path d="M460.0 153.6L462.7 159.0L457.3 159.0Z" fill="#8b0000"/>
<path d="M507.8 117.6L510.5 123.0L505.1 123.0Z" fill="#8b0000"/>
<path d="M533.3 124.2L536.0 129.6L530.6 129.6Z" fill="#8b0000"/>
<path d="M547.0 132.3L549.7 137.7L544.3 137.7Z" fill="#8b0000"/>
<path d="M531.6 137.4L534.3 142.8L528.9 142.8Z" fill="#8b0000"/>
<path d="M536.6 138.0L539.3 143.4L533.9 143.4Z" fill="#8b0000"/>
<path d="M532.1 142.2L534.8 147.6L529.4 147.6Z" fill="#8b0000"/>
<path d="M521.1 142.7L523.8 148.1L518.4 148.1Z" fill="#8b0000"/>
<path d="M507.2 148.8L509.9 154.2L504.5 154.2Z" fill="#8b0000"/>
<path d="M569.2 125.4L571.9 130.8L566.5 130.8Z" fill="#8b0000"/>
<path d="M585.0 127.7L587.7 133.1L582.3 133.1Z" fill="#8b0000"/>
<path d="M563.5 132.1L566.2 137.5L560.8 137.5Z" fill="#8b0000"/>
<path d="M566.1 136.8L568.8 142.2L563.4 142.2Z" fill="#8b0000"/>
<path d="M569.2 135.9L571.9 141.3L566.5 141.3Z" fill="#8b0000"/>
<path d="M572.4 135.9L575.1 141.3L569.7 141.3Z" fill="#8b0000"/>
<path d="M581.6 135.1L584.3 140.5L578.9 140.5Z" fill="#8b0000"/>
<path d="M618.0 93.6L620.7 99.0L615.3 99.0Z" fill="#8b0000"/>
<path d="M627.5 93.6L630.2 99.0L624.8 99.0Z" fill="#8b0000"/>
<path d="M608.9 104.7L611.6 110.1L606.2 110.1Z" fill="#8b0000"/>
<path d="M593.8 115.8L596.5 121.2L591.1 121.2Z" fill="#8b0000"/>
<path d="M601.6 114.4L604.3 119.8L598.9 119.8Z" fill="#8b0000"/>
<path d="M593.8 121.1L596.5 126.5L591.1 126.5Z" fill="#8b0000"/>
<path d="M598.4 122.0L601.1 127.4L595.7 127.4Z" fill="#8b0000"/>
<path d="M605.4 120.7L608.1 126.1L602.7 126.1Z" fill="#8b0000"/>
<path d="M610.4 122.6L613.1 128.0L607.7 128.0Z" fill="#8b0000"/>
<path d="M594.0 130.3L596.7 135.7L591.3 135.7Z" fill="#8b0000"/>
<path d="M646.0 123.9L648.7 129.3L643.3 129.3Z" fill="#8b0000"/>
<line x1="414.6" y1="142.0" x2="706.4" y2="96.4" stroke="#000" stroke-width="1.4" stroke-dasharray="3.8 1.8"/>
<polyline points="434.4,140.5 455.7,148.5 472.6,120.9 486.6,132.2 499.8,117.5 530.9,123.2 563.5,119.2" fill="none" stroke="#5676d2" stroke-width="1.5"/>
<rect x="431.6" y="137.7" width="5.6" height="5.6" fill="#5d7bd4" stroke="#404a68" stroke-width="0.8"/>
<rect x="452.9" y="145.7" width="5.6" height="5.6" fill="#5d7bd4" stroke="#404a68" stroke-width="0.8"/>
<rect x="469.8" y="118.1" width="5.6" height="5.6" fill="#5d7bd4" stroke="#404a68" stroke-width="0.8"/>
<rect x="483.8" y="129.4" width="5.6" height="5.6" fill="#5d7bd4" stroke="#404a68" stroke-width="0.8"/>
<rect x="497.0" y="114.7" width="5.6" height="5.6" fill="#5d7bd4" stroke="#404a68" stroke-width="0.8"/>
<rect x="528.1" y="120.4" width="5.6" height="5.6" fill="#5d7bd4" stroke="#404a68" stroke-width="0.8"/>
<rect x="560.7" y="116.4" width="5.6" height="5.6" fill="#5d7bd4" stroke="#404a68" stroke-width="0.8"/>
</g>
<rect x="414.6" y="4.4" width="291.8" height="265.9" fill="none" stroke="#4a4a4a" stroke-width="1.0"/>
<line x1="422.5" y1="270.3" x2="422.5" y2="273.0" stroke="#555" stroke-width="0.9"/>
<text x="422.5" y="283.1" font-size="11.0" text-anchor="middle" textLength="16.6" lengthAdjust="spacingAndGlyphs" stroke="#000" stroke-width="0.15">8.5</text>
<line x1="463.1" y1="270.3" x2="463.1" y2="273.0" stroke="#555" stroke-width="0.9"/>
<text x="463.1" y="283.1" font-size="11.0" text-anchor="middle" textLength="16.6" lengthAdjust="spacingAndGlyphs" stroke="#000" stroke-width="0.15">9.0</text>
<line x1="503.6" y1="270.3" x2="503.6" y2="273.0" stroke="#555" stroke-width="0.9"/>
<text x="503.6" y="283.1" font-size="11.0" text-anchor="middle" textLength="16.6" lengthAdjust="spacingAndGlyphs" stroke="#000" stroke-width="0.15">9.5</text>
<line x1="544.1" y1="270.3" x2="544.1" y2="273.0" stroke="#555" stroke-width="0.9"/>
<text x="544.1" y="283.1" font-size="11.0" text-anchor="middle" textLength="23.3" lengthAdjust="spacingAndGlyphs" stroke="#000" stroke-width="0.15">10.0</text>
<line x1="584.7" y1="270.3" x2="584.7" y2="273.0" stroke="#555" stroke-width="0.9"/>
<text x="584.7" y="283.1" font-size="11.0" text-anchor="middle" textLength="23.3" lengthAdjust="spacingAndGlyphs" stroke="#000" stroke-width="0.15">10.5</text>
<line x1="625.2" y1="270.3" x2="625.2" y2="273.0" stroke="#555" stroke-width="0.9"/>
<text x="625.2" y="283.1" font-size="11.0" text-anchor="middle" textLength="23.3" lengthAdjust="spacingAndGlyphs" stroke="#000" stroke-width="0.15">11.0</text>
<line x1="665.8" y1="270.3" x2="665.8" y2="273.0" stroke="#555" stroke-width="0.9"/>
<text x="665.8" y="283.1" font-size="11.0" text-anchor="middle" textLength="23.3" lengthAdjust="spacingAndGlyphs" stroke="#000" stroke-width="0.15">11.5</text>
<line x1="706.3" y1="270.3" x2="706.3" y2="273.0" stroke="#555" stroke-width="0.9"/>
<text x="706.3" y="283.1" font-size="11.0" text-anchor="middle" textLength="23.3" lengthAdjust="spacingAndGlyphs" stroke="#000" stroke-width="0.15">12.0</text>
<line x1="411.9" y1="18.1" x2="414.6" y2="18.1" stroke="#555" stroke-width="0.9"/>
<text x="408.8" y="22.1" font-size="11.0" text-anchor="end" textLength="16.6" lengthAdjust="spacingAndGlyphs" stroke="#000" stroke-width="0.15">1.2</text>
<line x1="411.9" y1="59.2" x2="414.6" y2="59.2" stroke="#555" stroke-width="0.9"/>
<text x="408.8" y="63.2" font-size="11.0" text-anchor="end" textLength="16.6" lengthAdjust="spacingAndGlyphs" stroke="#000" stroke-width="0.15">0.9</text>
<line x1="411.9" y1="100.3" x2="414.6" y2="100.3" stroke="#555" stroke-width="0.9"/>
<text x="408.8" y="104.3" font-size="11.0" text-anchor="end" textLength="16.6" lengthAdjust="spacingAndGlyphs" stroke="#000" stroke-width="0.15">0.6</text>
<line x1="411.9" y1="141.3" x2="414.6" y2="141.3" stroke="#555" stroke-width="0.9"/>
<text x="408.8" y="145.3" font-size="11.0" text-anchor="end" textLength="16.6" lengthAdjust="spacingAndGlyphs" stroke="#000" stroke-width="0.15">0.3</text>
<line x1="411.9" y1="182.4" x2="414.6" y2="182.4" stroke="#555" stroke-width="0.9"/>
<text x="408.8" y="186.4" font-size="11.0" text-anchor="end" textLength="16.6" lengthAdjust="spacingAndGlyphs" stroke="#000" stroke-width="0.15">0.0</text>
<line x1="411.9" y1="223.5" x2="414.6" y2="223.5" stroke="#555" stroke-width="0.9"/>
<text x="408.8" y="227.5" font-size="11.0" text-anchor="end" textLength="25.4" lengthAdjust="spacingAndGlyphs" stroke="#000" stroke-width="0.15">−0.3</text>
<text transform="translate(376.3,137.0) rotate(-90)" font-size="13.1" text-anchor="middle" textLength="172.4" lengthAdjust="spacingAndGlyphs" stroke="#000" stroke-width="0.12">Half-Mass Radius [log(kpc)]</text>
<text x="193.5" y="298.4" font-size="13.1" text-anchor="middle" textLength="159.6" lengthAdjust="spacingAndGlyphs" stroke="#000" stroke-width="0.12">Stellar mass (log(<tspan font-style="italic">M</tspan><tspan font-size="9" dx="0.9" dy="3.6">*</tspan><tspan dx="1.8" dy="-3.6">/</tspan><tspan font-style="italic">M</tspan><tspan font-size="8" dy="1.8">&#8857;</tspan><tspan dy="-1.8">))</tspan></text>
<text x="560.5" y="298.4" font-size="13.1" text-anchor="middle" textLength="159.6" lengthAdjust="spacingAndGlyphs" stroke="#000" stroke-width="0.12">Stellar mass (log(<tspan font-style="italic">M</tspan><tspan font-size="9" dx="0.9" dy="3.6">*</tspan><tspan dx="1.8" dy="-3.6">/</tspan><tspan font-style="italic">M</tspan><tspan font-size="8" dy="1.8">&#8857;</tspan><tspan dy="-1.8">))</tspan></text>
<rect x="419.5" y="9.3" width="150.9" height="59.6" rx="2" fill="#fff" fill-opacity="0.8" stroke="#e0e0e0" stroke-width="0.9"/>
<circle cx="433.0" cy="17.0" r="2.9" fill="#c5078e"/>
<path d="M433.0 28.0L436.6 35.2L429.4 35.2Z" fill="#ff0000"/>
<path d="M433.0 42.3L436.6 49.5L429.4 49.5Z" fill="#8b0000"/>
<line x1="422.2" y1="60.2" x2="443.8" y2="60.2" stroke="#5676d2" stroke-width="1.5"/>
<rect x="430.2" y="57.4" width="5.6" height="5.6" fill="#5d7bd4" stroke="#404a68" stroke-width="0.8"/>
<text x="450.9" y="20.7" font-size="10.4" text-anchor="start" textLength="93.3" lengthAdjust="spacingAndGlyphs" stroke="#000" stroke-width="0.12">Bulge-like Galaxies</text>
<text x="450.9" y="35.1" font-size="10.4" text-anchor="start" textLength="86.5" lengthAdjust="spacingAndGlyphs" stroke="#000" stroke-width="0.12">Disk-like Galaxies</text>
<text x="450.9" y="49.5" font-size="10.4" text-anchor="start" textLength="116.1" lengthAdjust="spacingAndGlyphs" stroke="#000" stroke-width="0.12">Quiescent Descendants</text>
<text x="450.9" y="63.9" font-size="10.4" text-anchor="start" textLength="87.6" lengthAdjust="spacingAndGlyphs" stroke="#000" stroke-width="0.12">SF Field trend line</text>
</svg></body></html>
